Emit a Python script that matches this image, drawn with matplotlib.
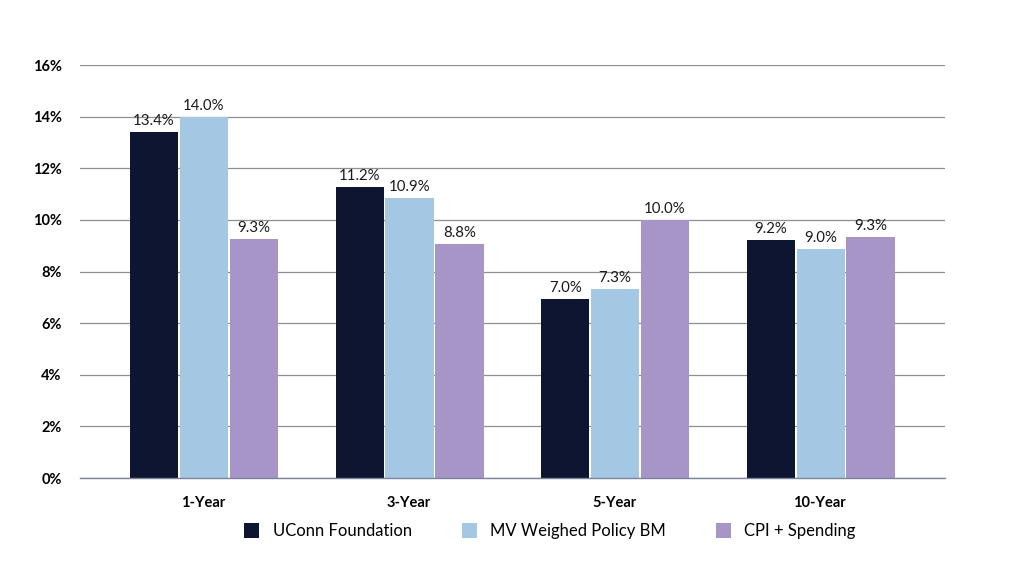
import numpy as np
import matplotlib.pyplot as plt

plt.rcParams['font.family'] = ['Lato', 'DejaVu Sans']

categories = ["1-Year", "3-Year", "5-Year", "10-Year"]
series = ["UConn Foundation", "MV Weighed Policy BM", "CPI + Spending"]
uconn = [13.4, 11.28, 6.95, 9.22]
policy_bm = [14.0, 10.85, 7.33, 8.88]
cpi_spending = [9.26, 9.07, 10.0, 9.34]
uconn_labels = ["13.4%", "11.2%", "7.0%", "9.2%"]
policy_labels = ["14.0%", "10.9%", "7.3%", "9.0%"]
cpi_labels = ["9.3%", "8.8%", "10.0%", "9.3%"]
yticks = [0, 2, 4, 6, 8, 10, 12, 14, 16]

colors = ["#0E1530", "#A4C8E3", "#A895C8"]

fig = plt.figure(figsize=(10.24, 5.76), dpi=100)
ax = fig.add_axes([0.078, 0.170, 0.845, 0.717])

x = np.arange(len(categories))
width = 0.234
step = 0.243

all_vals = [uconn, policy_bm, cpi_spending]
all_labels = [uconn_labels, policy_labels, cpi_labels]
for i, (vals, labs) in enumerate(zip(all_vals, all_labels)):
    pos = x + (i - 1) * step + 0.004
    bars = ax.bar(pos, vals, width, color=colors[i], label=series[i], zorder=3)
    for b, lab in zip(bars, labs):
        ax.text(b.get_x() + b.get_width() / 2, b.get_height() + 0.16, lab,
                ha="center", va="bottom", fontsize=10.8, color="#1a1a1a")

ax.set_xlim(-0.6, 3.61)
ax.set_ylim(0, 16)
ax.set_yticks(yticks)
ax.set_yticklabels([f"{t}%" for t in yticks], fontsize=10.5, fontweight="bold")
ax.set_xticks(x)
ax.set_xticklabels(categories, fontsize=10.5, fontweight="bold")
ax.tick_params(axis="x", length=0, pad=13)
ax.tick_params(axis="y", length=0, pad=13)
ax.grid(axis="y", color="#8f8f8f", linewidth=0.9, zorder=0)
for s in ["top", "right", "left"]:
    ax.spines[s].set_visible(False)
ax.spines["bottom"].set_color("#7d8499")
ax.spines["bottom"].set_linewidth(1.0)
ax.spines["bottom"].set_zorder(4)

fig.legend(loc="center", bbox_to_anchor=(0.537, 0.078), ncol=3, frameon=False,
           fontsize=12, handlelength=0.9, handleheight=1.0,
           columnspacing=3.0, handletextpad=0.8)

fig.savefig("out.png", dpi=100)
